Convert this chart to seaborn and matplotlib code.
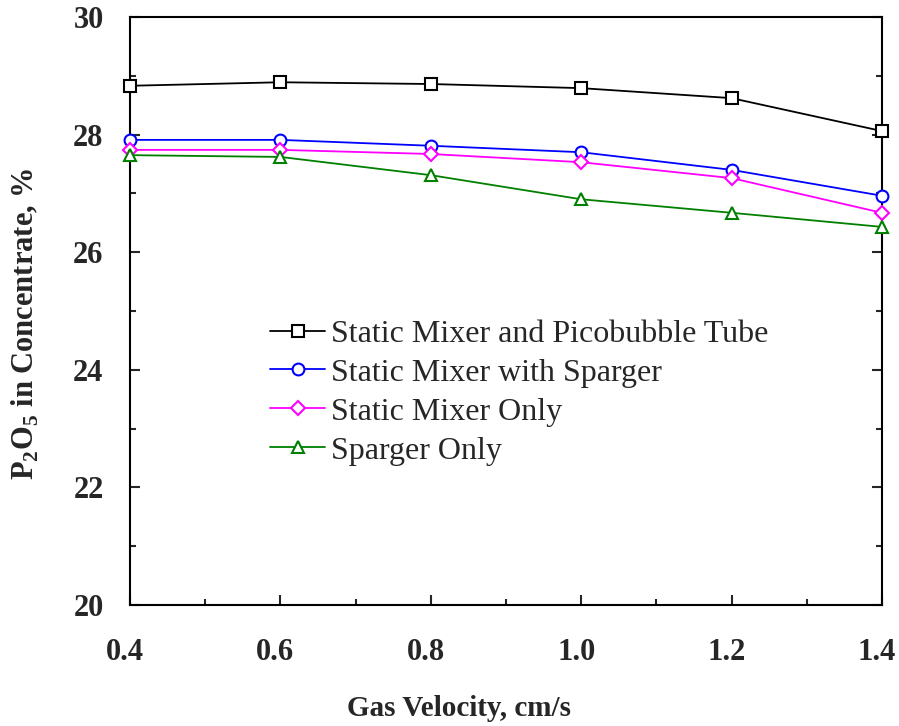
import matplotlib
matplotlib.use("Agg")
import matplotlib.pyplot as plt
import matplotlib.transforms as mtransforms
import seaborn as sns
import pandas as pd
from matplotlib.ticker import MultipleLocator

sns.set_style("white")
plt.rcParams['font.family'] = ['Liberation Serif', 'DejaVu Serif']
plt.rcParams['mathtext.fontset'] = 'custom'
plt.rcParams['mathtext.rm'] = 'Liberation Serif'
plt.rcParams['mathtext.bf'] = 'Liberation Serif:bold'

gas_velocity = [0.4, 0.6, 0.8, 1.0, 1.2, 1.4]
picobubble = [28.83, 28.89, 28.86, 28.79, 28.62, 28.06]
mixer_sparger = [27.91, 27.91, 27.81, 27.70, 27.40, 26.96]
mixer_only = [27.74, 27.74, 27.67, 27.53, 27.26, 26.67]
sparger_only = [27.65, 27.62, 27.31, 26.90, 26.67, 26.43]

series = [
    ("Static Mixer and Picobubble Tube", picobubble, "black", "s"),
    ("Static Mixer with Sparger", mixer_sparger, "blue", "o"),
    ("Static Mixer Only", mixer_only, "magenta", "D"),
    ("Sparger Only", sparger_only, "green", "^"),
]

fig = plt.figure(figsize=(8.99, 7.26), dpi=100)
ax = fig.add_axes([0.1446, 0.1667, 0.981 - 0.1446, 0.9766 - 0.1667])

for name, vals, color, mk in series:
    df = pd.DataFrame({"x": gas_velocity, "y": vals})
    ms = 8.5 if mk != "D" else 7
    sns.lineplot(data=df, x="x", y="y", ax=ax, color=color, linewidth=1.3,
                 marker=mk, markersize=ms, markerfacecolor="white",
                 markeredgecolor=color, markeredgewidth=1.5, label=name,
                 clip_on=False, zorder=3)

ax.set_xlim(0.4, 1.4)
ax.set_ylim(20, 30)
ax.xaxis.set_major_locator(MultipleLocator(0.2))
ax.xaxis.set_minor_locator(MultipleLocator(0.1))
ax.yaxis.set_major_locator(MultipleLocator(2))
ax.yaxis.set_minor_locator(MultipleLocator(1))
ax.set_xticks([0.4, 0.6, 0.8, 1.0, 1.2, 1.4])
ax.set_xticklabels(["0.4", "0.6", "0.8", "1.0", "1.2", "1.4"])
ax.tick_params(axis='both', which='major', direction='in', length=7, width=1.5,
               labelsize=22, left=True, right=True, bottom=True, top=False)
ax.tick_params(axis='both', which='minor', direction='in', length=4.3, width=1.5,
               left=True, right=True, bottom=True, top=False)
ax.tick_params(axis='x', which='major', pad=24)
ax.tick_params(axis='y', which='major', pad=19)
offset = mtransforms.ScaledTranslation(-5 / 100, 0, fig.dpi_scale_trans)
for lab in ax.get_xticklabels():
    lab.set_fontweight('bold')
    lab.set_transform(lab.get_transform() + offset)
for lab in ax.get_yticklabels():
    lab.set_fontweight('bold')
for sp in ax.spines.values():
    sp.set_linewidth(1.5)
    sp.set_color('black')

ax.set_xlabel("Gas Velocity, cm/s", fontsize=21, fontweight='bold')
ax.xaxis.set_label_coords(0.4375, -0.153)
ax.set_ylabel(r"P$_\mathbf{2}$O$_\mathbf{5}$ in Concentrate, %", fontsize=22,
              fontweight='bold')
ax.yaxis.set_label_coords(-0.118, 0.478)

leg = ax.legend(loc='upper left', bbox_to_anchor=(0.1697, 0.5075), frameon=False,
                fontsize=23, handlelength=1.72, handletextpad=0.19, labelspacing=0.3,
                borderaxespad=0)

fig.savefig("out.png", dpi=100)
